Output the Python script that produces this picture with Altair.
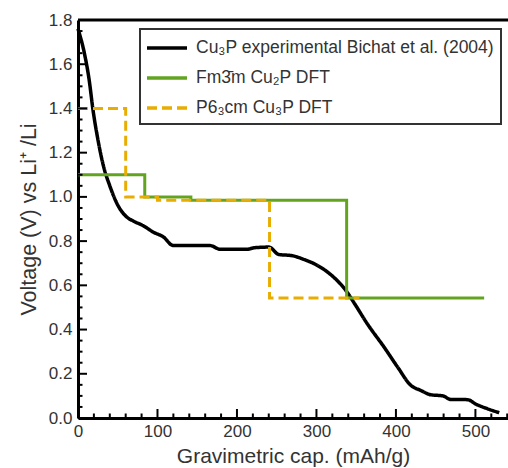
import altair as alt
import pandas as pd

# ---- data ----
S1 = "Cu₃P experimental Bichat et al. (2004)"
S2 = "Fm3̄m Cu₂P DFT"
S3 = "P6₃cm Cu₃P DFT"

exp_cap = [0, 8, 14, 19, 25, 32, 40, 49, 61, 70, 82, 95, 107, 120, 166, 179, 212, 222,
           240, 253, 268, 285, 297, 314, 326, 337, 348, 364, 385, 402, 419, 431, 444,
           459, 469, 490, 501, 515, 530]
exp_v = [1.76, 1.65, 1.53, 1.39, 1.26, 1.14, 1.05, 0.97, 0.91, 0.89, 0.87, 0.84, 0.82,
         0.78, 0.78, 0.763, 0.763, 0.77, 0.773, 0.739, 0.735, 0.716, 0.698, 0.66, 0.622,
         0.577, 0.517, 0.426, 0.321, 0.231, 0.147, 0.125, 0.105, 0.10, 0.084, 0.083,
         0.062, 0.042, 0.024]

fm_cap = [0, 84, 142, 338, 511]
fm_v = [1.10, 1.00, 0.985, 0.543, 0.543]

p6_cap = [0, 60, 100, 241, 354]
p6_v = [1.40, 1.00, 0.985, 0.543, 0.543]

x_major = [0, 100, 200, 300, 400, 500]
x_minor = [20, 40, 60, 80, 120, 140, 160, 180, 220, 240, 260, 280, 320, 340, 360, 380,
           420, 440, 460, 480, 520, 540]
y_major = [0.0, 0.2, 0.4, 0.6, 0.8, 1.0, 1.2, 1.4, 1.6, 1.8]
y_minor = [0.05, 0.1, 0.15, 0.25, 0.3, 0.35, 0.45, 0.5, 0.55, 0.65, 0.7, 0.75, 0.85, 0.9,
           0.95, 1.05, 1.1, 1.15, 1.25, 1.3, 1.35, 1.45, 1.5, 1.55, 1.65, 1.7, 1.75]

series_names = [S1, S2, S3]
series_colors = ["#000000", "#62a420", "#e8ad00"]
series_dash = [[1, 0], [1, 0], [10, 5]]

FONT = "Liberation Sans"
TXT = "#333333"

df_exp = pd.DataFrame({"series": S1, "cap": exp_cap, "v": exp_v})
df_fm = pd.DataFrame({"series": S2, "cap": fm_cap, "v": fm_v})
df_p6 = pd.DataFrame({"series": S3, "cap": p6_cap, "v": p6_v})

W, H = 430, 398

x_scale = alt.Scale(domain=[0, 541], nice=False, zero=False)
y_scale = alt.Scale(domain=[0, 1.8], nice=False)

x_axis = alt.Axis(values=x_major, ticks=False, grid=False, domainColor="black",
                  domainWidth=3, labelFontSize=17, labelColor=TXT, labelFont=FONT,
                  labelPadding=5, labelFlush=False,
                  title="Gravimetric cap. (mAh/g)", titleFontSize=21,
                  titleFont=FONT, titleFontWeight="normal", titleColor=TXT,
                  titlePadding=6)
y_axis = alt.Axis(values=y_major, format=".1f", ticks=False, grid=False,
                  domainColor="black", domainWidth=3, labelFontSize=17,
                  labelColor=TXT, labelFont=FONT, labelPadding=6,
                  labelFlush=False,
                  title="Voltage (V) vs Li⁺  /Li", titleFontSize=21.5,
                  titleFont=FONT, titleFontWeight="normal", titleColor=TXT,
                  titlePadding=8)

x_enc = alt.X("cap:Q", scale=x_scale, axis=x_axis)
y_enc = alt.Y("v:Q", scale=y_scale, axis=y_axis)

leg = alt.Legend(orient="none", legendX=62, legendY=9, title=None,
                 symbolType="M-2,0L2,0", symbolSize=400, symbolOffset=8,
                 symbolStrokeWidth=3.5, labelFontSize=17.5,
                 labelFont=FONT, labelColor=TXT, labelLimit=0,
                 strokeColor="#333333", fillColor="white",
                 padding=7, rowPadding=9, labelOffset=17)

color_enc = alt.Color("series:N",
                      scale=alt.Scale(domain=series_names, range=series_colors),
                      sort=series_names, legend=leg)
dash_enc = alt.StrokeDash("series:N",
                          scale=alt.Scale(domain=series_names, range=series_dash),
                          sort=series_names, legend=leg)

exp_line = alt.Chart(df_exp).mark_line(strokeWidth=3.5, interpolate="monotone").encode(
    x=x_enc, y=y_enc, color=color_enc, strokeDash=dash_enc)
fm_line = alt.Chart(df_fm).mark_line(strokeWidth=3, interpolate="step-after").encode(
    x=x_enc, y=y_enc, color=color_enc, strokeDash=dash_enc)
p6_line = alt.Chart(df_p6).mark_line(strokeWidth=3, interpolate="step-after").encode(
    x=x_enc, y=y_enc, color=color_enc, strokeDash=dash_enc)

# inward ticks and top spine
xt_major = alt.Chart(pd.DataFrame({"cap": x_major})).mark_rule(color="black", strokeWidth=2).encode(
    x=x_enc, y=alt.value(H), y2=alt.value(H - 9))
xt_minor = alt.Chart(pd.DataFrame({"cap": x_minor})).mark_rule(color="black", strokeWidth=2).encode(
    x=x_enc, y=alt.value(H), y2=alt.value(H - 4.5))
yt_major = alt.Chart(pd.DataFrame({"v": y_major})).mark_rule(color="black", strokeWidth=2).encode(
    y=y_enc, x=alt.value(0), x2=alt.value(9))
yt_minor = alt.Chart(pd.DataFrame({"v": y_minor})).mark_rule(color="black", strokeWidth=2).encode(
    y=y_enc, x=alt.value(0), x2=alt.value(4.5))
top_spine = alt.Chart(pd.DataFrame({"v": [1.8]})).mark_rule(color="black", strokeWidth=3).encode(
    y=y_enc, x=alt.value(0), x2=alt.value(W))

chart = alt.layer(
    exp_line, fm_line, p6_line, xt_major, xt_minor, yt_major, yt_minor, top_spine
).properties(
    width=W, height=H,
    padding={"left": 78, "right": 0, "top": 20, "bottom": 50},
    autosize=alt.AutoSizeParams(type="none"),
    background="white",
).configure_view(stroke=None).configure_legend(strokeWidth=2)

chart.save("out.html", embed_options={"renderer": "svg", "actions": False})
